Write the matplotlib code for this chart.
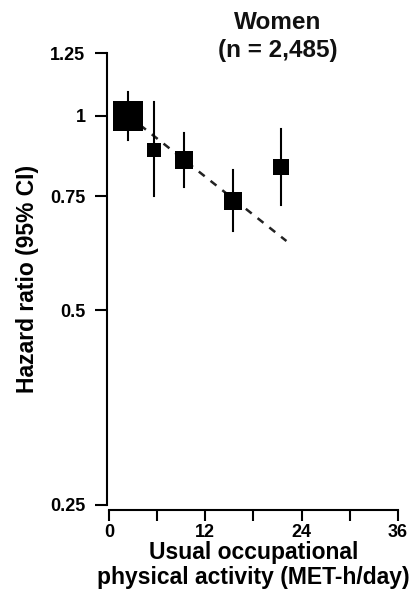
import matplotlib
matplotlib.use('Agg')
import matplotlib.pyplot as plt
import numpy as np

# ── data ────────────────────────────────────────────────────────────────────
MET_H       = [2.4, 5.6, 9.4, 15.4, 21.4]          # category midpoints
HR          = [1.00, 0.886, 0.855, 0.739, 0.832]
HR_LO       = [0.917, 0.750, 0.777, 0.664, 0.728]
HR_HI       = [1.088, 1.051, 0.941, 0.824, 0.952]
BOX_SIZE    = [22.0, 9.5, 13.5, 13.0, 11.5]          # square side (pt), ~precision

TREND_X     = [2.4, 22.1]
TREND_HR    = [1.00, 0.64]

Y_TICKS     = [0.25, 0.5, 0.75, 1.0, 1.25]
Y_LABELS    = ['0.25', '0.5', '0.75', '1', '1.25']
X_TICKS     = [0, 6, 12, 18, 24, 30, 36]
X_LABELS    = ['0', '', '12', '', '24', '', '36']

# ── figure ──────────────────────────────────────────────────────────────────
plt.rcParams.update({
    'font.family': ['Liberation Sans', 'DejaVu Sans'],
    'font.weight': 'bold',
    'axes.linewidth': 1.5,
    'text.color': '#111111',
})

fig = plt.figure(figsize=(4.18, 5.95), dpi=100)
ax = fig.add_axes([109 / 418, 1 - 505 / 595, 289 / 418, 452 / 595])

ax.plot(TREND_X, TREND_HR, color='#222222', linestyle=(0, (3, 3)),
        linewidth=1.8, zorder=2)

for x, y, lo, hi, s in zip(MET_H, HR, HR_LO, HR_HI, BOX_SIZE):
    ax.plot([x, x], [lo, hi], color='black', linewidth=1.5, zorder=3)
    ax.plot(x, y, marker='s', markersize=s, color='black',
            markeredgewidth=0, zorder=4)

ax.set_yscale('log')
ax.set_ylim(0.25, 1.25)
ax.set_xlim(0, 36)
ax.set_yticks(Y_TICKS)
ax.set_yticklabels(Y_LABELS)
ax.minorticks_off()
ax.set_xticks(X_TICKS)
ax.set_xticklabels(X_LABELS)

for side in ('top', 'right'):
    ax.spines[side].set_visible(False)
ax.spines['left'].set_position(('outward', 1.5))
ax.spines['bottom'].set_position(('outward', 3.6))
ax.spines['left'].set_bounds(0.25, 1.25)
ax.spines['bottom'].set_bounds(0, 36)

ax.tick_params(axis='y', length=8.5, width=1.5, pad=7, labelsize=13)
ax.tick_params(axis='x', length=8, width=1.5, pad=2, labelsize=13)

ax.set_ylabel('Hazard ratio (95% CI)', fontsize=16.5, fontweight='bold',
              labelpad=8)
ax.set_xlabel('Usual occupational\nphysical activity (MET-h/day)',
              fontsize=16.5, fontweight='bold', labelpad=0, linespacing=1.1)

fig.text(278 / 418, 1 - 11 / 595, 'Women\n(n = 2,485)', ha='center', va='top',
         fontsize=17.5, fontweight='bold', linespacing=1.25)

fig.savefig('out.png', dpi=100)
